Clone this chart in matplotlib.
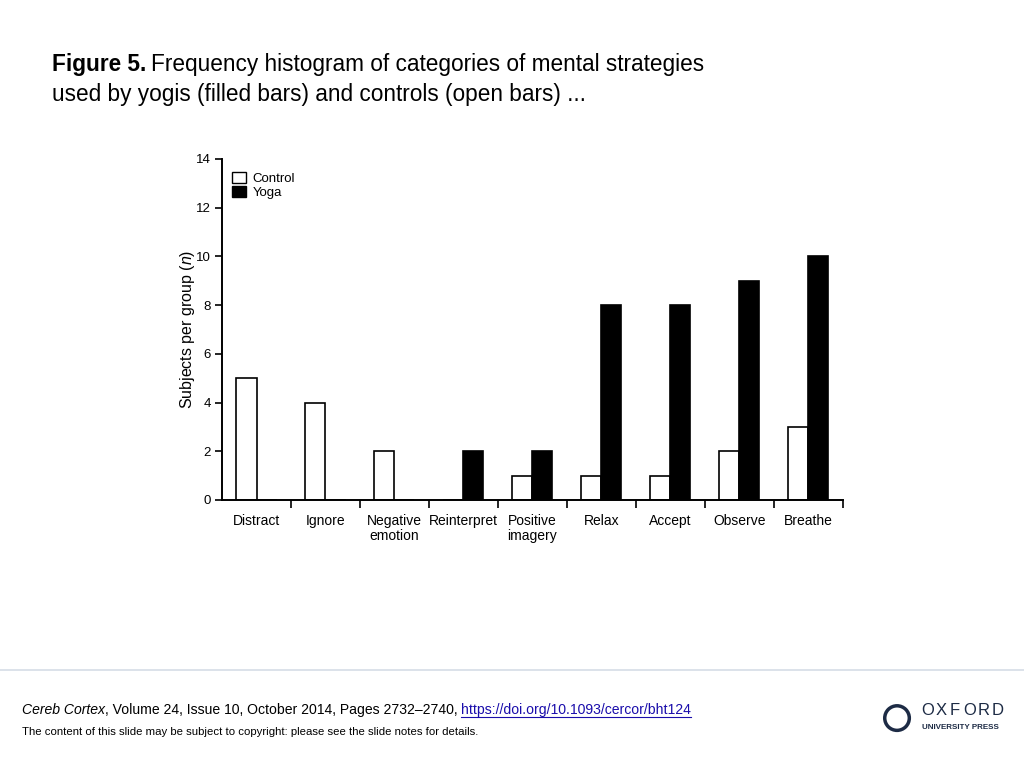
import matplotlib
matplotlib.use('Agg')
import matplotlib.pyplot as plt
import numpy as np
from matplotlib.patches import Patch, Ellipse
from matplotlib.lines import Line2D

plt.rcParams['font.family'] = 'Liberation Sans'
plt.rcParams['mathtext.fontset'] = 'custom'
plt.rcParams['mathtext.it'] = 'Liberation Sans:italic'
plt.rcParams['mathtext.rm'] = 'Liberation Sans'

# data
categories = ['Distract', 'Ignore', 'Negative\nemotion', 'Reinterpret', 'Positive\nimagery',
              'Relax', 'Accept', 'Observe', 'Breathe']
control = [5, 4, 2, 0, 1, 1, 1, 2, 3]
yoga = [0, 0, 0, 2, 2, 8, 8, 9, 10]
yticks = [0, 2, 4, 6, 8, 10, 12, 14]

fig = plt.figure(figsize=(10.24, 7.68), dpi=100)
ax = fig.add_axes([0.2168, 0.349, 0.6064, 0.444])

x = np.arange(len(categories))
w = 0.29
ax.bar(x - w / 2, control, width=w, color='white', edgecolor='black', lw=1.2, label='Control')
ax.bar(x + w / 2, yoga, width=w, color='black', edgecolor='black', lw=1.2, label='Yoga')

ax.set_xlim(-0.5, len(categories) - 0.5)
ax.set_ylim(0, 14)
ax.set_yticks(yticks)
ax.tick_params(axis='y', labelsize=9.5, width=1.2, length=5, direction='out', pad=3)
# ticks at group boundaries, labels at group centres
ax.set_xticks(np.arange(len(categories)) + 0.5)
ax.set_xticklabels([])
ax.tick_params(axis='x', width=1.2, length=6, direction='out')
ax.set_xticks(x, minor=True)
ax.set_xticklabels(categories, minor=True, fontsize=10, linespacing=1.1)
ax.tick_params(axis='x', which='minor', length=0, pad=10)

for s in ['top', 'right']:
    ax.spines[s].set_visible(False)
ax.spines['left'].set_linewidth(1.4)
ax.spines['bottom'].set_linewidth(1.4)

ax.set_ylabel('Subjects per group ($\\mathit{n}$)', fontsize=11.5, labelpad=-1)

leg_handles = [Patch(facecolor='white', edgecolor='black', lw=1),
               Patch(facecolor='black', edgecolor='black', lw=1)]
ax.legend(leg_handles, ['Control', 'Yoga'], loc='upper left', frameon=False, fontsize=9.5,
          handlelength=1.1, handleheight=0.9, handletextpad=0.5, labelspacing=0.05,
          borderaxespad=0.0, bbox_to_anchor=(0.007, 0.977))

# title
t1 = fig.text(0.051, 0.908, 'Figure 5.', fontsize=16.3, fontweight='bold', va='baseline')
fig.canvas.draw()
x1 = t1.get_window_extent().x1 / fig.bbox.width
fig.text(x1 + 0.004, 0.908, 'Frequency histogram of categories of mental strategies',
         fontsize=16.3, va='baseline')
fig.text(0.051, 0.869, 'used by yogis (filled bars) and controls (open bars) ...',
         fontsize=16.3, va='baseline')

# footer line
fig.add_artist(Line2D([0, 1], [0.128, 0.128], color='#d5dde6', lw=1.2))

# citation
fs = 10.1
c1 = fig.text(0.021, 0.07, 'Cereb Cortex', fontsize=fs, style='italic', va='baseline')
fig.canvas.draw()
cx = c1.get_window_extent().x1 / fig.bbox.width
c2 = fig.text(cx, 0.07, ', Volume 24, Issue 10, October 2014, Pages 2732\u20132740, ',
              fontsize=fs, va='baseline')
fig.canvas.draw()
cx2 = c2.get_window_extent().x1 / fig.bbox.width
c3 = fig.text(cx2, 0.07, 'https://doi.org/10.1093/cercor/bht124', fontsize=fs,
              color='#1a0dab', va='baseline')
fig.canvas.draw()
ub = c3.get_window_extent()
fig.add_artist(Line2D([ub.x0 / fig.bbox.width, ub.x1 / fig.bbox.width], [0.066, 0.066],
                      color='#1a0dab', lw=0.8))
fig.text(0.021, 0.043, 'The content of this slide may be subject to copyright: please see the slide notes for details.',
         fontsize=8.2, va='baseline')

# publisher mark
navy = '#1d2b45'
fig.add_artist(Ellipse((0.876, 0.065), 0.024, 0.024 * 1024 / 768, transform=fig.transFigure,
                       fill=False, edgecolor=navy, lw=2.5))
for i, ch in enumerate('OXFORD'):
    fig.text(0.9 + i * 0.0137, 0.069, ch, fontsize=12, color=navy, va='baseline')
fig.text(0.9, 0.051, 'UNIVERSITY PRESS', fontsize=5.8, color=navy, va='baseline', fontweight='bold')

fig.savefig('out.png', dpi=100)
